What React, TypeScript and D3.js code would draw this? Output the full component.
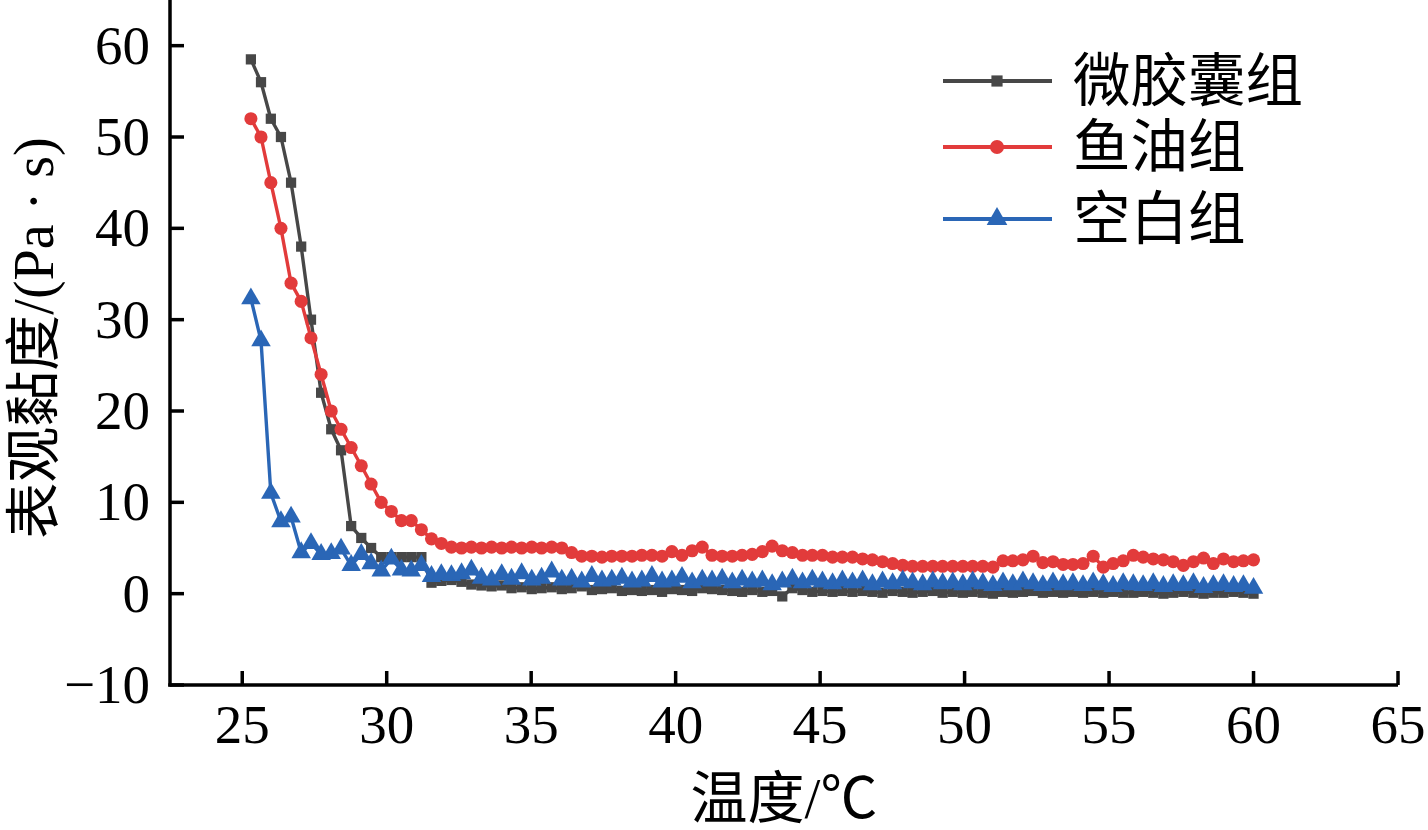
import React from "react";
import * as d3 from "d3";

const temps = [
  25.3, 25.65, 25.99, 26.34, 26.69, 27.04, 27.38, 27.73, 28.08, 28.42,
  28.77, 29.12, 29.46, 29.81, 30.16, 30.51, 30.85, 31.2, 31.55, 31.89,
  32.24, 32.59, 32.93, 33.28, 33.63, 33.98, 34.32, 34.67, 35.02, 35.36,
  35.71, 36.06, 36.4, 36.75, 37.1, 37.45, 37.79, 38.14, 38.49, 38.83,
  39.18, 39.53, 39.87, 40.22, 40.57, 40.92, 41.26, 41.61, 41.96, 42.3,
  42.65, 43.0, 43.34, 43.69, 44.04, 44.39, 44.73, 45.08, 45.43, 45.77,
  46.12, 46.47, 46.81, 47.16, 47.51, 47.86, 48.2, 48.55, 48.9, 49.24,
  49.59, 49.94, 50.28, 50.63, 50.98, 51.33, 51.67, 52.02, 52.37, 52.71,
  53.06, 53.41, 53.75, 54.1, 54.45, 54.8, 55.14, 55.49, 55.84, 56.18,
  56.53, 56.88, 57.22, 57.57, 57.92, 58.27, 58.61, 58.96, 59.31, 59.65,
  60.0,
];

const microcapsule = [
  58.5, 56, 52, 50, 45, 38, 30, 22, 18, 15.7,
  7.4, 6.1, 5.0, 4.0, 4.0, 4.0, 4.0, 4.0, 1.2, 1.4,
  1.5, 1.3, 1.0, 0.9, 0.8, 0.9, 0.6, 0.7, 0.5, 0.6,
  0.7, 0.5, 0.6, 0.8, 0.4, 0.5, 0.6, 0.3, 0.4, 0.3,
  0.4, 0.2, 0.5, 0.4, 0.3, 0.6, 0.5, 0.4, 0.3, 0.2,
  0.4, 0.2, 0.3, -0.3, 0.6, 0.4, 0.2, 0.3, 0.2, 0.3,
  0.2, 0.3, 0.2, 0.1, 0.3, 0.2, 0.1, 0.2, 0.3, 0.1,
  0.2, 0.1, 0.2, 0.1, 0.0, 0.2, 0.1, 0.2, 0.3, 0.1,
  0.2, 0.1, 0.2, 0.1, 0.2, 0.1, 0.2, 0.1, 0.1, 0.2,
  0.1, 0.0, 0.1, 0.2, 0.1, 0.0, 0.1, 0.1, 0.2, 0.1,
  0.0,
];

const fishOil = [
  52, 50, 45, 40, 34, 32, 28, 24, 20, 18,
  16, 14, 12, 10, 9, 8, 8, 7, 6, 5.5,
  5.1, 5.0, 5.1, 5.0, 5.1, 5.0, 5.1, 5.0, 5.1, 5.0,
  5.1, 5.0, 4.5, 4.1, 4.1, 4.0, 4.1, 4.1, 4.1, 4.2,
  4.2, 4.1, 4.6, 4.2, 4.7, 5.1, 4.2, 4.1, 4.1, 4.2,
  4.3, 4.6, 5.2, 4.7, 4.5, 4.2, 4.2, 4.2, 4.0, 4.0,
  4.0, 3.8, 3.7, 3.5, 3.3, 3.1, 3.0, 3.0, 3.0, 3.0,
  3.0, 3.0, 3.0, 3.0, 2.9, 3.6, 3.6, 3.7, 4.1, 3.4,
  3.5, 3.2, 3.2, 3.3, 4.1, 2.9, 3.3, 3.6, 4.2, 4.0,
  3.8, 3.7, 3.5, 3.1, 3.5, 3.9, 3.3, 3.8, 3.5, 3.6,
  3.7,
];

const blank = [
  32.3, 27.7, 11.0, 7.9, 8.4, 4.5, 5.5, 4.3, 4.4, 4.9,
  3.1, 4.3, 3.3, 2.5, 3.8, 2.6, 2.5, 3.1, 1.9, 2.1,
  2.0, 2.2, 2.6, 1.7, 1.5, 2.1, 1.6, 2.2, 1.5, 1.7,
  2.4, 1.5, 1.6, 1.3, 1.9, 1.4, 1.5, 1.7, 1.3, 1.4,
  1.9, 1.3, 1.4, 1.8, 1.2, 1.5, 1.4, 1.6, 1.2, 1.5,
  1.3, 1.4, 1.0, 1.3, 1.6, 1.2, 1.5, 1.3, 1.1, 1.4,
  1.2, 1.4, 1.0, 1.3, 1.1, 1.4, 1.2, 1.0, 1.3, 1.1,
  1.2, 1.0, 1.3, 1.1, 0.9, 1.2, 1.0, 1.3, 1.1, 0.9,
  1.2, 1.0, 1.1, 0.9, 1.2, 1.0, 0.8, 1.1, 1.0, 0.9,
  1.1, 0.8, 1.0, 0.9, 1.1, 0.7, 0.9, 1.0, 0.8, 0.9,
  0.6,
];

const seriesNames = ["微胶囊组", "鱼油组", "空白组"];
const xTicks = [25, 30, 35, 40, 45, 50, 55, 60, 65];
const yTicks = [-10, 0, 10, 20, 30, 40, 50, 60];
const xTitle = "温度/℃";
const yTitle = "表观黏度/(Pa · s)";

const W = 1428;
const H = 830;
const colors = ["#474747", "#e23b3b", "#2a66b6"];
const symbolTypes = [d3.symbolSquare, d3.symbolCircle, d3.symbolTriangle];
const symbolSizes = [105, 135, 165];
const FONT = "'Liberation Serif', 'Noto Sans CJK SC', serif";

export default function App() {
  const x = d3.scaleLinear().domain([22.5, 65]).range([170, 1398]);
  const y = d3.scaleLinear().domain([-10, 65]).range([685, 0]);
  const allSeries = [microcapsule, fishOil, blank];
  const line = d3
    .line<number>()
    .x((_, i) => x(temps[i]))
    .y((d) => y(d));

  const axisColor = "#000";
  const tickLen = 14;

  return (
    <svg
      width={W}
      height={H}
      style={{ position: "absolute", left: 0, top: 0, background: "#fff" }}
    >
      <rect x={0} y={0} width={W} height={H} fill="#fff" />
      {allSeries.map((vals, si) => {
        const sym = d3.symbol().type(symbolTypes[si]).size(symbolSizes[si])();
        return (
          <g key={si}>
            <path
              d={line(vals) || ""}
              fill="none"
              stroke={colors[si]}
              strokeWidth={3.4}
              strokeLinejoin="round"
            />
            {vals.map((v, i) => (
              <path
                key={i}
                d={sym || ""}
                transform={`translate(${x(temps[i])},${y(v)})`}
                fill={colors[si]}
              />
            ))}
          </g>
        );
      })}
      <line x1={170} x2={170} y1={0} y2={686.5} stroke={axisColor} strokeWidth={3.5} />
      <line x1={168.25} x2={1398} y1={685} y2={685} stroke={axisColor} strokeWidth={3.5} />
      {yTicks.map((t) => (
        <g key={"y" + t}>
          <line x1={170} x2={170 + tickLen} y1={y(t)} y2={y(t)} stroke={axisColor} strokeWidth={3.5} />
          <text
            x={150}
            y={y(t) + 18}
            textAnchor="end"
            fontFamily={FONT}
            fontSize={55}
            fill="#000"
          >
            {t < 0 ? "\u2212" + Math.abs(t) : t}
          </text>
        </g>
      ))}
      {xTicks.map((t) => (
        <g key={"x" + t}>
          <line x1={x(t)} x2={x(t)} y1={685} y2={685 - tickLen} stroke={axisColor} strokeWidth={3.5} />
          <text
            x={x(t)}
            y={743}
            textAnchor="middle"
            fontFamily={FONT}
            fontSize={55}
            fill="#000"
          >
            {t}
          </text>
        </g>
      ))}
      <text
        x={784}
        y={818}
        textAnchor="middle"
        fontFamily={FONT}
        fontSize={57}
        fill="#000"
      >
        {xTitle}
      </text>
      <text
        transform={`translate(53,338) rotate(-90)`}
        textAnchor="middle"
        fontFamily={FONT}
        fontSize={56}
        fill="#000"
      >
        {yTitle}
      </text>
      {seriesNames.map((name, si) => {
        const ly = [81, 147, 219][si];
        const sym = d3.symbol().type(symbolTypes[si]).size(symbolSizes[si] + 20)();
        return (
          <g key={"l" + si}>
            <line x1={943} x2={1052} y1={ly} y2={ly} stroke={colors[si]} strokeWidth={3.8} />
            <path d={sym || ""} transform={`translate(997,${ly})`} fill={colors[si]} />
            <text
              x={1073}
              y={ly + 20}
              fontFamily={FONT}
              fontSize={57.5}
              fill="#000"
            >
              {name}
            </text>
          </g>
        );
      })}
    </svg>
  );
}
